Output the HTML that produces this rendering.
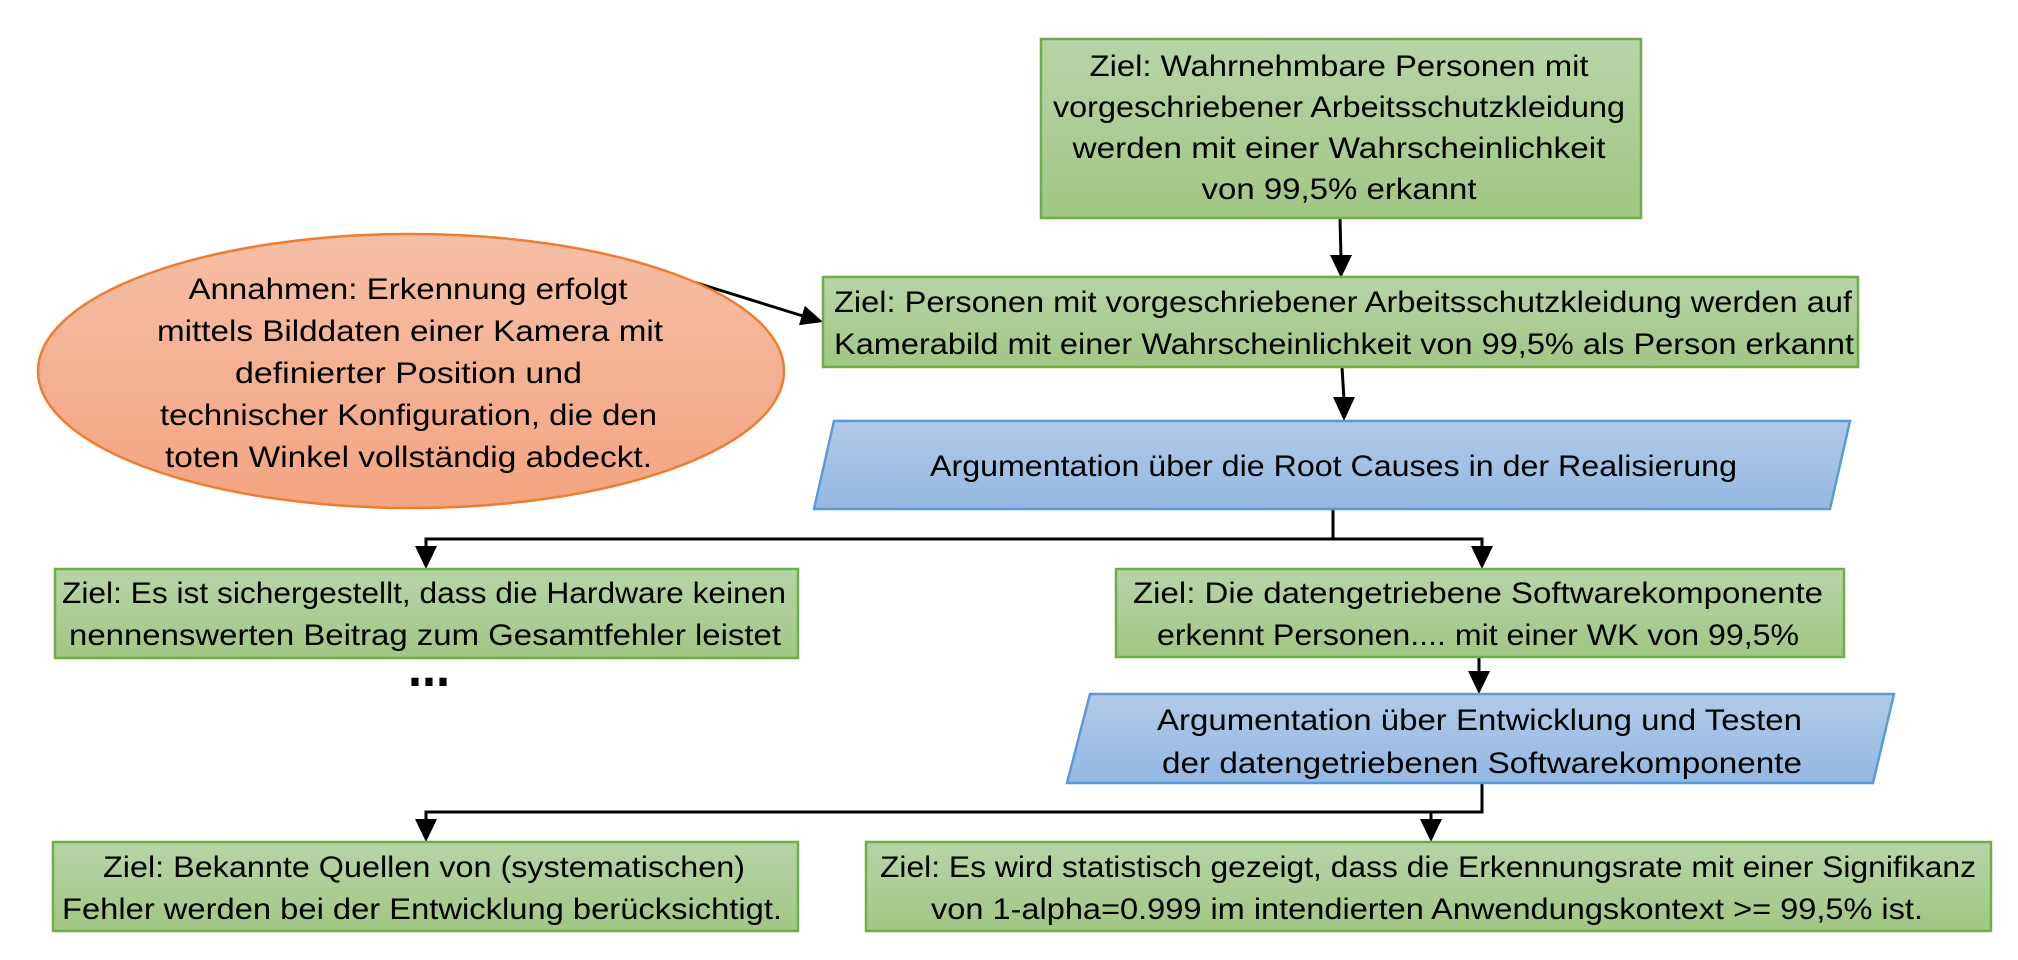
<!DOCTYPE html>
<html>
<head>
<meta charset="utf-8">
<style>
  html, body { margin: 0; padding: 0; background: #ffffff; }
  body { width: 2018px; height: 960px; overflow: hidden; }
  svg { display: block; }
  text { font-family: "Liberation Sans", "DejaVu Sans", sans-serif; font-size: 30px; fill: #000; }
</style>
</head>
<body>
<svg width="2018" height="960" viewBox="0 0 2018 960" xmlns="http://www.w3.org/2000/svg">
  <defs>
    <linearGradient id="gGreen" x1="0" y1="0" x2="0" y2="1">
      <stop offset="0" stop-color="#B6D5A8"/>
      <stop offset="1" stop-color="#A0C784"/>
    </linearGradient>
    <linearGradient id="gBlue" x1="0" y1="0" x2="0" y2="1">
      <stop offset="0" stop-color="#B1CAE8"/>
      <stop offset="1" stop-color="#94B8E2"/>
    </linearGradient>
    <linearGradient id="gOrange" x1="0" y1="0" x2="0" y2="1">
      <stop offset="0" stop-color="#F5BFA6"/>
      <stop offset="1" stop-color="#F4A480"/>
    </linearGradient>
  </defs>

  <!-- Connectors -->
  <g stroke="#000" stroke-width="3" fill="none">
    <line x1="1340" y1="218" x2="1341" y2="258"/>
    <line x1="1342" y1="367" x2="1344" y2="400"/>
    <line x1="671" y1="275" x2="803" y2="316"/>
    <polyline points="1333,509 1333,539"/>
    <polyline points="426,550 426,539 1482,539 1482,550"/>
    <line x1="1479" y1="657" x2="1479" y2="675"/>
    <polyline points="1482,783 1482,812 426,812 426,823"/>
    <line x1="1431" y1="812" x2="1431" y2="823"/>
  </g>
  <g fill="#000">
    <polygon points="1330,255 1352,255 1341,278"/>
    <polygon points="1333,397 1355,397 1344,421"/>
    <polygon points="823,322 804.9,305.9 799.0,325.1"/>
    <polygon points="415,546 437,546 426,569"/>
    <polygon points="1471,546 1493,546 1482,569"/>
    <polygon points="1468,671 1490,671 1479,694"/>
    <polygon points="415,819 437,819 426,842"/>
    <polygon points="1420,819 1442,819 1431,842"/>
  </g>

  <!-- Top goal box -->
  <rect x="1041" y="39" width="600" height="179" fill="url(#gGreen)" stroke="#70AD47" stroke-width="2.5"/>
  <text x="1339" y="76" text-anchor="middle" textLength="499" lengthAdjust="spacingAndGlyphs">Ziel: Wahrnehmbare Personen mit</text>
  <text x="1339" y="117" text-anchor="middle" textLength="572" lengthAdjust="spacingAndGlyphs">vorgeschriebener Arbeitsschutzkleidung</text>
  <text x="1339" y="158" text-anchor="middle" textLength="533" lengthAdjust="spacingAndGlyphs">werden mit einer Wahrscheinlichkeit</text>
  <text x="1339" y="199" text-anchor="middle" textLength="275" lengthAdjust="spacingAndGlyphs">von 99,5% erkannt</text>

  <!-- Assumption ellipse -->
  <ellipse cx="411" cy="371" rx="373" ry="137" fill="url(#gOrange)" stroke="#ED7D31" stroke-width="2.5"/>
  <text x="408" y="299" text-anchor="middle" textLength="439" lengthAdjust="spacingAndGlyphs">Annahmen: Erkennung erfolgt</text>
  <text x="410" y="341" text-anchor="middle" textLength="506" lengthAdjust="spacingAndGlyphs">mittels Bilddaten einer Kamera mit</text>
  <text x="408.5" y="383" text-anchor="middle" textLength="347" lengthAdjust="spacingAndGlyphs">definierter Position und</text>
  <text x="408.5" y="425" text-anchor="middle" textLength="497" lengthAdjust="spacingAndGlyphs">technischer Konfiguration, die den</text>
  <text x="408.5" y="467" text-anchor="middle" textLength="487" lengthAdjust="spacingAndGlyphs">toten Winkel vollständig abdeckt.</text>

  <!-- Second goal box -->
  <rect x="823" y="277" width="1035" height="90" fill="url(#gGreen)" stroke="#70AD47" stroke-width="2.5"/>
  <text x="1343" y="312" text-anchor="middle" textLength="1018" lengthAdjust="spacingAndGlyphs">Ziel: Personen mit vorgeschriebener Arbeitsschutzkleidung werden auf</text>
  <text x="1344" y="354" text-anchor="middle" textLength="1020" lengthAdjust="spacingAndGlyphs">Kamerabild mit einer Wahrscheinlichkeit von 99,5% als Person erkannt</text>

  <!-- Strategy 1 -->
  <polygon points="834,421 1850,421 1830,509 814,509" fill="url(#gBlue)" stroke="#5B9BD5" stroke-width="2.5"/>
  <text x="1333.5" y="476" text-anchor="middle" textLength="807" lengthAdjust="spacingAndGlyphs">Argumentation über die Root Causes in der Realisierung</text>

  <!-- Left goal: hardware -->
  <rect x="55" y="569" width="743" height="89" fill="url(#gGreen)" stroke="#70AD47" stroke-width="2.5"/>
  <text x="424" y="603" text-anchor="middle" textLength="724" lengthAdjust="spacingAndGlyphs">Ziel: Es ist sichergestellt, dass die Hardware keinen</text>
  <text x="425" y="645" text-anchor="middle" textLength="712" lengthAdjust="spacingAndGlyphs">nennenswerten Beitrag zum Gesamtfehler leistet</text>

  <!-- ellipsis -->
  <text x="429" y="686" text-anchor="middle" textLength="42" lengthAdjust="spacingAndGlyphs" style="font-size:56px;font-weight:bold;">...</text>

  <!-- Right goal: software -->
  <rect x="1116" y="569" width="728" height="88" fill="url(#gGreen)" stroke="#70AD47" stroke-width="2.5"/>
  <text x="1478" y="603" text-anchor="middle" textLength="690" lengthAdjust="spacingAndGlyphs">Ziel: Die datengetriebene Softwarekomponente</text>
  <text x="1478" y="645" text-anchor="middle" textLength="642" lengthAdjust="spacingAndGlyphs">erkennt Personen.... mit einer WK von 99,5%</text>

  <!-- Strategy 2 -->
  <polygon points="1090,694 1894,694 1873,783 1067,783" fill="url(#gBlue)" stroke="#5B9BD5" stroke-width="2.5"/>
  <text x="1479.5" y="730" text-anchor="middle" textLength="645" lengthAdjust="spacingAndGlyphs">Argumentation über Entwicklung und Testen</text>
  <text x="1482" y="773" text-anchor="middle" textLength="640" lengthAdjust="spacingAndGlyphs">der datengetriebenen Softwarekomponente</text>

  <!-- Bottom left goal -->
  <rect x="53" y="842" width="745" height="89" fill="url(#gGreen)" stroke="#70AD47" stroke-width="2.5"/>
  <text x="424" y="877" text-anchor="middle" textLength="642" lengthAdjust="spacingAndGlyphs">Ziel: Bekannte Quellen von (systematischen)</text>
  <text x="422" y="919" text-anchor="middle" textLength="720" lengthAdjust="spacingAndGlyphs">Fehler werden bei der Entwicklung berücksichtigt.</text>

  <!-- Bottom right goal -->
  <rect x="866" y="842" width="1125" height="89" fill="url(#gGreen)" stroke="#70AD47" stroke-width="2.5"/>
  <text x="1428" y="877" text-anchor="middle" textLength="1096" lengthAdjust="spacingAndGlyphs">Ziel: Es wird statistisch gezeigt, dass die Erkennungsrate mit einer Signifikanz</text>
  <text x="1427" y="919" text-anchor="middle" textLength="992" lengthAdjust="spacingAndGlyphs">von 1-alpha=0.999 im intendierten Anwendungskontext &gt;= 99,5% ist.</text>
</svg>
</body>
</html>
